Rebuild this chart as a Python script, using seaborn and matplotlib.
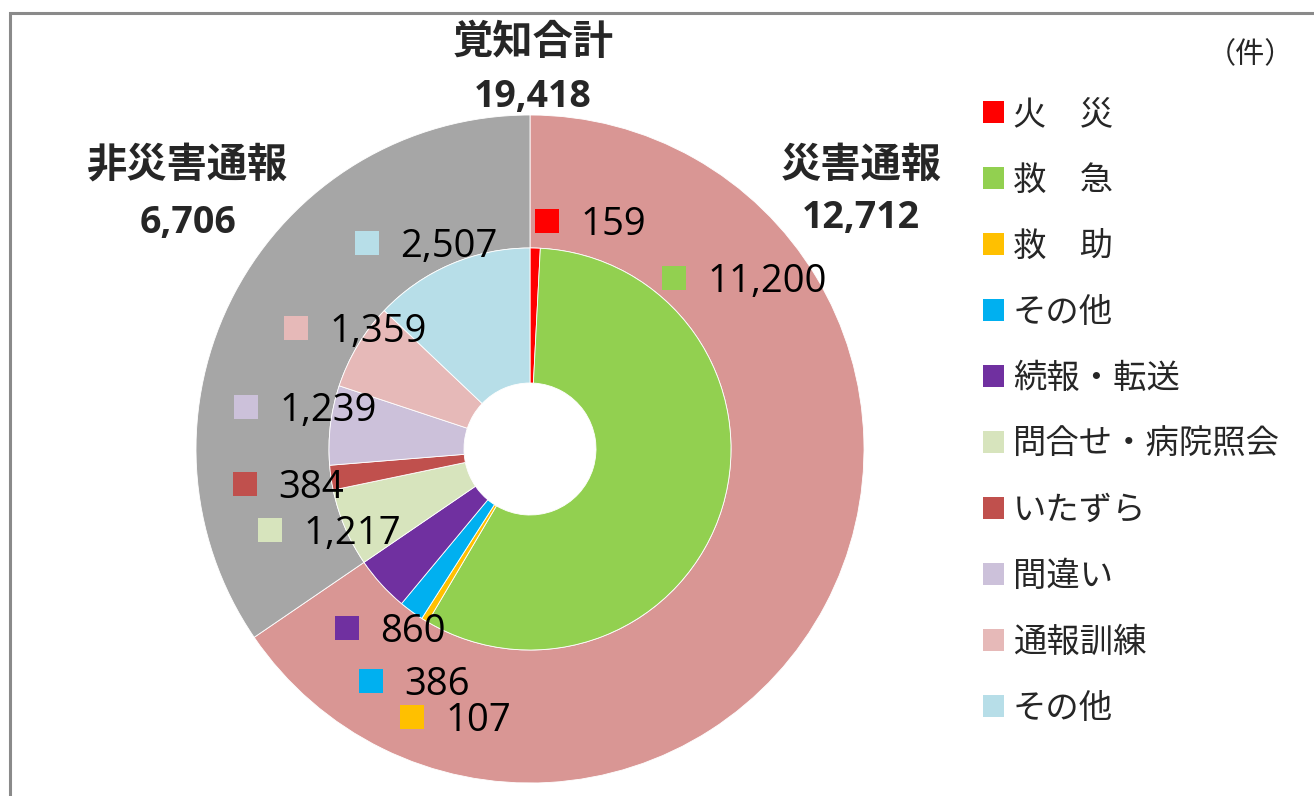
#!/usr/bin/env python3

import seaborn as sns
import matplotlib.pyplot as plt
from matplotlib.patches import Patch, Rectangle

outer_labels = ["災害通報", "非災害通報"]
outer_values = [12712, 6706]
inner_labels = ["火　災", "救　急", "救　助", "その他", "続報・転送",
                "問合せ・病院照会", "いたずら", "間違い", "通報訓練", "その他"]
inner_values = [159, 11200, 107, 386, 860, 1217, 384, 1239, 1359, 2507]
total_label = "覚知合計"
total_value = 19418
unit_label = "（件）"

## Colours...
outer_colors = ["#D99694", "#A6A6A6"]
inner_colors = ["#FF0000", "#92D050", "#FFC000", "#00B0F0", "#7030A0",
                "#D7E4BD", "#C0504D", "#CCC1DA", "#E6B9B8", "#B7DEE8"]

sns.set_theme(style="white")
plt.rcParams["font.family"] = ["Noto Sans CJK JP", "DejaVu Sans"]
NUM_FONT = ["Open Sans", "DejaVu Sans"]

W, H = 1314, 796
fig = plt.figure(figsize=(W / 100, H / 100), dpi=100)
fig.patch.set_facecolor("white")

## Pie centre and radii in pixels...
cx, cy, R = 530, 449, 334
r_mid, r_hole = 201, 66
ax = fig.add_axes([(cx - R) / W, (H - cy - R) / H, 2 * R / W, 2 * R / H])


def P(x, y):
    ## pixel position -> data coords of the pie axes
    return (x - cx) / R, (cy - y) / R


ax.pie(outer_values, colors=outer_colors, radius=1, startangle=90,
       counterclock=False,
       wedgeprops=dict(width=1 - r_mid / R, edgecolor="white", linewidth=0.6))
ax.pie(inner_values, colors=inner_colors, radius=r_mid / R, startangle=90,
       counterclock=False,
       wedgeprops=dict(width=(r_mid - r_hole) / R, edgecolor="white", linewidth=0.6))
ax.set_xlim(-1, 1)
ax.set_ylim(-1, 1)
ax.axis("off")

## Data labels (square marker + value), positions picked by hand...
label_pos = [(547, 221), (674, 278), (412, 717), (371, 681), (347, 628),
             (270, 530), (245, 484), (246, 407), (296, 328), (367, 243)]
for v, c, (sx, sy) in zip(inner_values, inner_colors, label_pos):
    ax.plot(*P(sx, sy), marker="s", ms=17, mew=0, color=c, ls="none", clip_on=False)
    ax.text(*P(sx + 33, sy + 14), f"{v:,}", fontsize=27.5, family=NUM_FONT,
            ha="left", va="baseline", color="black")

## Ring headers...
headers = [(total_label, total_value, 533, 42, 107),
           (outer_labels[0], outer_values[0], 861, 165, 228),
           (outer_labels[1], outer_values[1], 188, 165, 233)]
for name, val, hx, hy, by in headers:
    ax.text(*P(hx, hy), name, fontsize=29, fontweight="bold", ha="center", va="center")
    ax.text(*P(hx, by), f"{val:,}", fontsize=27, fontweight="bold", family=NUM_FONT,
            ha="center", va="baseline")

## Legend...
handles = [Patch(facecolor=c, edgecolor="none") for c in inner_colors]
fig.legend(handles, inner_labels, loc="upper left",
           bbox_to_anchor=(983 / W, 1 - 97 / H), frameon=False, fontsize=24,
           handlelength=0.63, handleheight=0.63, handletextpad=0.27,
           labelspacing=0.93, borderaxespad=0, borderpad=0)

fig.text(1250 / W, 1 - 55 / H, unit_label, ha="center", va="center", fontsize=21)

## Chart frame (only the top and left edges are visible)...
fig.add_artist(Rectangle((10 / W, -0.05), 1.2, (H - 13) / H + 0.05,
                         transform=fig.transFigure, fill=False,
                         edgecolor="#8a8a8a", linewidth=2.2))

fig.savefig("out.png", dpi=100)
plt.close(fig)
